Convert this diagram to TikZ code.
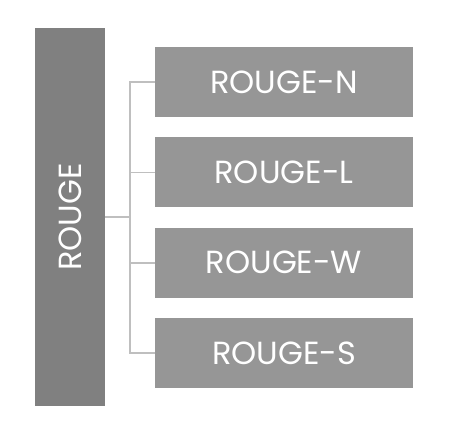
\documentclass[tikz,border=0pt]{standalone}
\usepackage{fontspec}
\setmainfont{Poppins}
\usepackage{tikz}
\usetikzlibrary{positioning}
\usepackage{xcolor}
\definecolor{bargray}{HTML}{808080}
\definecolor{boxgray}{HTML}{969696}
\definecolor{linegray}{HTML}{BFBFBF}
\tikzset{
  mainbar/.style={
    fill=bargray,
    minimum width=70pt,
    minimum height=378pt,
    text=white,
    inner sep=0pt,
    font=\fontsize{32}{36}\selectfont
  },
  subbox/.style={
    fill=boxgray,
    minimum width=258pt,
    minimum height=70pt,
    text=white,
    inner sep=0pt,
    font=\fontsize{32}{36}\selectfont
  },
  link/.style={
    draw=linegray,
    line width=1.5pt
  }
}
\begin{document}
\begin{tikzpicture}[x=1pt,y=-1pt,node distance=20pt]
\useasboundingbox (0,0) rectangle (458,442);
\node[mainbar] (rouge) at (70,217) {\rotatebox{90}{ROUGE}};
\node[subbox] (rn) at (284,82) {ROUGE-N};
\node[subbox, below=of rn] (rl) {ROUGE-L};
\node[subbox, below=of rl] (rw) {ROUGE-W};
\node[subbox, below=of rw] (rs) {ROUGE-S};
\coordinate (bus) at (130,217);
\draw[link] (rouge.east) -- (bus);
\draw[link] (bus) |- (rn.west);
\draw[link] (bus) |- (rl.west);
\draw[link] (bus) |- (rw.west);
\draw[link] (bus) |- (rs.west);
\end{tikzpicture}
\end{document}
